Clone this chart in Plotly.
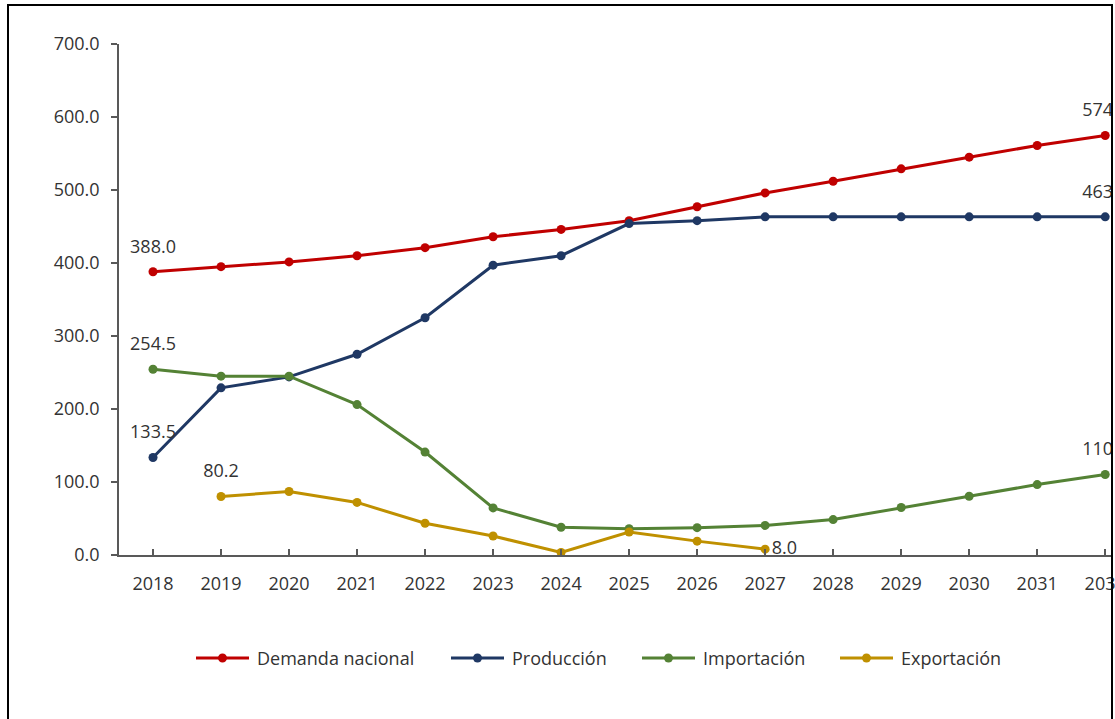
import plotly.graph_objects as go

years = [2018, 2019, 2020, 2021, 2022, 2023, 2024, 2025, 2026, 2027, 2028, 2029, 2030, 2031, 2032]
demanda = [388.0, 395.0, 401.5, 410.0, 421.0, 436.0, 446.0, 458.0, 477.0, 496.0, 512.0, 529.0, 545.0, 561.0, 574.6]
produccion = [133.5, 229.0, 244.0, 275.0, 325.0, 397.0, 410.0, 454.0, 458.0, 463.2, 463.2, 463.2, 463.2, 463.2, 463.2]
importacion = [254.5, 245.0, 245.0, 206.0, 141.0, 64.5, 38.0, 36.0, 37.5, 40.5, 48.5, 65.0, 80.5, 96.5, 110.2]
exportacion = [None, 80.2, 87.0, 72.0, 43.5, 26.0, 3.5, 31.5, 19.0, 8.0, None, None, None, None, None]

series_names = ["Demanda nacional", "Producción", "Importación", "Exportación"]
series_values = [demanda, produccion, importacion, exportacion]
series_colors = ["#C00000", "#1F3864", "#548235", "#BF9000"]

# indices of points carrying a data label above the point
label_idx = [[0, 14], [0, 14], [0, 14], [1]]
# labels to the right of the point
right_label_idx = [[], [], [], [9]]

FONT = "Open Sans"
TEXT_COLOR = "#333333"

W, H = 1115, 719
ML, MR, MT, MB = 119, 3, 44, 164
pw, ph = W - ML - MR, H - MT - MB

def px_x(x):
    return (x - ML) / pw

def px_y(y):
    return (H - MB - y) / ph

fig = go.Figure()

for name, vals, col, ridx in zip(series_names, series_values, series_colors, right_label_idx):
    rtext = [f"{v:.1f}" if (i in ridx and v is not None) else "" for i, v in enumerate(vals)]
    fig.add_trace(go.Scatter(
        x=years, y=vals, name=name, mode="lines+markers+text",
        line=dict(color=col, width=3),
        marker=dict(color=col, size=9),
        text=rtext, textposition="middle right",
        textfont=dict(family=FONT, size=18, color=TEXT_COLOR),
        cliponaxis=True, connectgaps=False, showlegend=False,
    ))

for name, vals, col, lidx in zip(series_names, series_values, series_colors, label_idx):
    lx = [years[i] for i in lidx]
    ly = [vals[i] for i in lidx]
    fig.add_trace(go.Scatter(
        x=lx, y=ly, mode="markers+text", showlegend=False, hoverinfo="skip",
        marker=dict(size=22, opacity=0, color=col),
        text=[f"{v:.1f}" for v in ly], textposition="top center",
        textfont=dict(family=FONT, size=18, color=TEXT_COLOR),
        cliponaxis=True,
    ))

# legend drawn below the plot (line + dot + label per series)
legend_line_x0 = [196, 451, 642, 840]
legend_y = 658
shapes = [dict(type="rect", xref="paper", yref="paper",
               x0=px_x(8), x1=px_x(1112), y0=px_y(740), y1=px_y(5),
               line=dict(color="black", width=2), fillcolor="rgba(0,0,0,0)", layer="above")]
annotations = []
for name, col, lx0 in zip(series_names, series_colors, legend_line_x0):
    shapes.append(dict(type="line", xref="paper", yref="paper",
                       x0=px_x(lx0), x1=px_x(lx0 + 53), y0=px_y(legend_y), y1=px_y(legend_y),
                       line=dict(color=col, width=3)))
    cx = lx0 + 26.5
    shapes.append(dict(type="circle", xref="paper", yref="paper",
                       x0=px_x(cx - 4.5), x1=px_x(cx + 4.5), y0=px_y(legend_y + 4.5), y1=px_y(legend_y - 4.5),
                       line=dict(color=col, width=0), fillcolor=col))
    annotations.append(dict(xref="paper", yref="paper", x=px_x(lx0 + 59), y=px_y(legend_y),
                            xanchor="left", yanchor="middle", text=name, showarrow=False,
                            font=dict(family=FONT, size=18, color=TEXT_COLOR)))

fig.update_layout(
    width=W, height=H,
    margin=dict(l=ML, r=MR, t=MT, b=MB, pad=0, autoexpand=False),
    paper_bgcolor="white", plot_bgcolor="white",
    font=dict(family=FONT, size=18, color=TEXT_COLOR),
    showlegend=False,
    xaxis=dict(range=[2017.5, 2032.1], tickmode="array", tickvals=years,
               ticktext=[str(y) for y in years], ticklabeloverflow="allow", automargin=False,
               showline=True, linecolor="#595959", linewidth=1.5,
               ticks="inside", ticklen=6, tickcolor="#595959", tickwidth=1.5,
               showgrid=False, zeroline=False, ticklabelstandoff=12,
               tickfont=dict(family=FONT, size=18, color=TEXT_COLOR)),
    yaxis=dict(range=[0, 700], tickmode="linear", tick0=0, dtick=100, tickformat=".1f",
               automargin=False,
               showline=True, linecolor="#595959", linewidth=1.5,
               ticks="outside", ticklen=6, tickcolor="#595959", tickwidth=1.5,
               showgrid=False, zeroline=False, ticklabelstandoff=8,
               tickfont=dict(family=FONT, size=18, color=TEXT_COLOR)),
    shapes=shapes,
    annotations=annotations,
)

fig.write_html("out.html", config={"displayModeBar": False},
               post_script="document.body.style.margin='0px';document.body.style.overflow='hidden';")
